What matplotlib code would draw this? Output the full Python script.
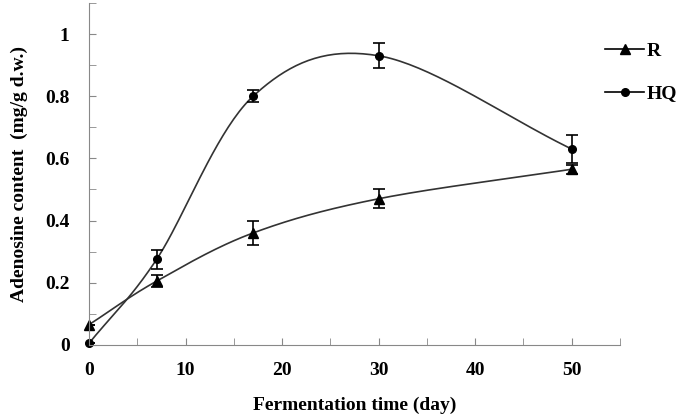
import numpy as np
import matplotlib.pyplot as plt
from matplotlib.ticker import MultipleLocator

days = [0, 7, 17, 30, 50]
r_vals = [0.065, 0.205, 0.36, 0.47, 0.565]
r_err = [0.0, 0.02, 0.04, 0.03, 0.015]
hq_vals = [0.005, 0.275, 0.80, 0.93, 0.63]
hq_err = [0.0, 0.03, 0.02, 0.04, 0.045]

plt.rcParams['font.family'] = ['Liberation Serif', 'DejaVu Serif']
plt.rcParams['font.weight'] = 'bold'

XMAX, YMAX = 55, 1.1


def smooth(x, y, n=40):
    # Catmull-Rom through the points, done in axis-fraction space like Excel's smoothed lines
    px = np.asarray(x, float) / XMAX * 6.85
    py = np.asarray(y, float) / YMAX * 4.18
    P = np.column_stack([px, py])
    P = np.vstack([P[0] - (P[1] - P[0]), P, P[-1] + (P[-1] - P[-2])])
    out = []
    t = np.linspace(0, 1, n)[:, None]
    for i in range(1, len(P) - 2):
        p0, p1, p2, p3 = P[i - 1], P[i], P[i + 1], P[i + 2]
        seg = 0.5 * ((2 * p1) + (-p0 + p2) * t + (2 * p0 - 5 * p1 + 4 * p2 - p3) * t ** 2
                     + (-p0 + 3 * p1 - 3 * p2 + p3) * t ** 3)
        out.append(seg)
    S = np.vstack(out)
    return S[:, 0] / 6.85 * XMAX, S[:, 1] / 4.18 * YMAX


fig = plt.figure(figsize=(6.85, 4.18), dpi=100)
ax = fig.add_axes([0.13, 0.175, 0.775, 0.818])

for vals, err, mk, ms, lab in [(r_vals, r_err, '^', 7, 'R'), (hq_vals, hq_err, 'o', 5.5, 'HQ')]:
    sx, sy = smooth(days, vals)
    ax.plot(sx, sy, color='#333333', lw=1.2)
    eb = ax.errorbar(days, vals, yerr=err, fmt=mk, ms=ms, color='black', ecolor='black',
                     elinewidth=1.2, capsize=4, capthick=1.2)
    eb[0].set_clip_on(False)
    ax.plot([], [], color='black', marker=mk, ms=ms, lw=1.2, label=lab)

ax.set_xlim(0, XMAX)
ax.set_ylim(0, YMAX)
ax.xaxis.set_minor_locator(MultipleLocator(5))
ax.yaxis.set_minor_locator(MultipleLocator(0.1))
ax.set_xticks([0, 10, 20, 30, 40, 50])
ax.set_xticklabels(['0', '10', '20', '30', '40', '50'])
ax.set_yticks([0, 0.2, 0.4, 0.6, 0.8, 1.0])
ax.set_yticklabels(['0', '0.2', '0.4', '0.6', '0.8', '1'])
ax.tick_params(which='both', direction='in', color='#888888', labelsize=14, length=5)
ax.tick_params(axis='y', pad=14)
ax.tick_params(axis='x', pad=12)
for s in ['top', 'right']:
    ax.spines[s].set_visible(False)
for s in ['left', 'bottom']:
    ax.spines[s].set_color('#888888')
ax.set_xlabel('Fermentation time (day)', fontsize=14, fontweight='bold', labelpad=13)
ax.set_ylabel('Adenosine content  (mg/g d.w.)', fontsize=14, fontweight='bold', labelpad=12)

leg = ax.legend(loc='upper left', bbox_to_anchor=(0.972, 0.886), frameon=False,
                fontsize=14, handlelength=2.0, labelspacing=1.3, handletextpad=0.15,
                borderpad=0, borderaxespad=0)

fig.savefig('out.png', dpi=100)
